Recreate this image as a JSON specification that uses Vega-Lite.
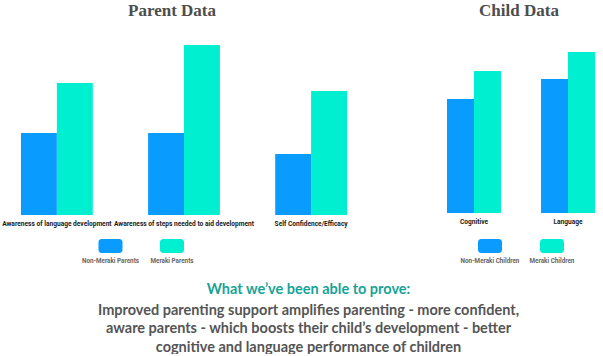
{
  "$schema": "https://vega.github.io/schema/vega-lite/v6.json",
  "background": "white",
  "padding": {"left": 0, "right": 0, "top": 2, "bottom": 0},
  "datasets": {
    "parent": [
      {"measure": "Awareness of language development", "group": "Non-Meraki Parents", "value": 44.3},
      {"measure": "Awareness of language development", "group": "Meraki Parents", "value": 71.4},
      {"measure": "Awareness of steps needed to aid development", "group": "Non-Meraki Parents", "value": 44.3},
      {"measure": "Awareness of steps needed to aid development", "group": "Meraki Parents", "value": 91.9},
      {"measure": "Self Confidence/Efficacy", "group": "Non-Meraki Parents", "value": 33},
      {"measure": "Self Confidence/Efficacy", "group": "Meraki Parents", "value": 67}
    ],
    "child": [
      {"measure": "Cognitive", "group": "Non-Meraki Children", "value": 62.3},
      {"measure": "Cognitive", "group": "Meraki Children", "value": 77.6},
      {"measure": "Language", "group": "Non-Meraki Children", "value": 73.2},
      {"measure": "Language", "group": "Meraki Children", "value": 88}
    ],
    "parentLegend": [
      {"group": "Non-Meraki Parents"},
      {"group": "Meraki Parents"}
    ],
    "childLegend": [
      {"group": "Non-Meraki Children"},
      {"group": "Meraki Children"}
    ],
    "summary": [
      {"line": 1, "kind": "head", "text": "What we’ve been able to prove:"},
      {"line": 2, "kind": "body", "text": "Improved parenting support amplifies parenting - more confident,"},
      {"line": 3, "kind": "body", "text": "aware parents - which boosts their child’s development - better"},
      {"line": 4, "kind": "body", "text": "cognitive and language performance of children"}
    ]
  },
  "vconcat": [
    {
      "hconcat": [
        {
          "vconcat": [
            {
              "title": {"text": "Parent Data", "font": "Liberation Serif", "fontSize": 17, "fontWeight": "bold", "color": "#4d4d4d", "offset": 10, "dx": -12},
              "width": 368,
              "height": 185,
              "data": {"name": "parent"},
              "mark": {"type": "bar"},
              "encoding": {
                "x": {
                  "field": "measure", "type": "nominal", "sort": null,
                  "scale": {"paddingInner": 0.435, "paddingOuter": 0.165},
                  "axis": {"title": null, "labelAngle": 0, "domain": false, "ticks": false, "labelPadding": 5, "labelFont": "Roboto", "labelFontSize": 6.6, "labelFontWeight": "bold", "labelColor": "#1a1a1a", "labelOverlap": false, "labelLimit": 0}
                },
                "xOffset": {"field": "group", "type": "nominal", "sort": ["Non-Meraki Parents", "Meraki Parents"], "scale": {"paddingInner": 0, "paddingOuter": 0}},
                "y": {"field": "value", "type": "quantitative", "scale": {"domain": [0, 100]}, "axis": null},
                "color": {"field": "group", "type": "nominal", "scale": {"domain": ["Non-Meraki Parents", "Meraki Parents"], "range": ["#0a9bff", "#00efd1"]}, "legend": null}
              }
            },
            {
              "width": 172,
              "height": 14,
              "data": {"name": "parentLegend"},
              "layer": [
                {
                  "mark": {"type": "bar", "width": 24, "cornerRadius": 3},
                  "encoding": {
                    "x": {"field": "group", "type": "nominal", "sort": null, "scale": {"type": "point", "padding": 0.898, "align": 1}, "axis": null},
                    "color": {"field": "group", "type": "nominal", "scale": {"domain": ["Non-Meraki Parents", "Meraki Parents"], "range": ["#0a9bff", "#00efd1"]}, "legend": null}
                  }
                },
                {
                  "mark": {"type": "text", "dy": 15, "font": "Roboto", "fontSize": 6.3, "fontWeight": "bold", "color": "#666666"},
                  "encoding": {
                    "x": {"field": "group", "type": "nominal", "sort": null},
                    "text": {"field": "group"}
                  }
                }
              ]
            }
          ],
          "spacing": 12,
          "resolve": {"scale": {"x": "independent", "xOffset": "independent", "color": "independent"}}
        },
        {
          "vconcat": [
            {
              "title": {"text": "Child Data", "font": "Liberation Serif", "fontSize": 17, "fontWeight": "bold", "color": "#4d4d4d", "offset": 10, "dx": -2},
              "width": 164,
              "height": 183,
              "data": {"name": "child"},
              "mark": {"type": "bar"},
              "encoding": {
                "x": {
                  "field": "measure", "type": "nominal", "sort": null,
                  "scale": {"paddingInner": 0.426, "paddingOuter": 0.085},
                  "axis": {"title": null, "labelAngle": 0, "domain": false, "ticks": false, "labelPadding": 5, "labelFont": "Roboto", "labelFontSize": 6.6, "labelFontWeight": "bold", "labelColor": "#1a1a1a", "labelOverlap": false, "labelLimit": 0}
                },
                "xOffset": {"field": "group", "type": "nominal", "sort": ["Non-Meraki Children", "Meraki Children"], "scale": {"paddingInner": 0, "paddingOuter": 0}},
                "y": {"field": "value", "type": "quantitative", "scale": {"domain": [0, 100]}, "axis": null},
                "color": {"field": "group", "type": "nominal", "scale": {"domain": ["Non-Meraki Children", "Meraki Children"], "range": ["#0a9bff", "#00efd1"]}, "legend": null}
              }
            },
            {
              "width": 164,
              "height": 14,
              "data": {"name": "childLegend"},
              "layer": [
                {
                  "mark": {"type": "bar", "width": 24, "cornerRadius": 3},
                  "encoding": {
                    "x": {"field": "group", "type": "nominal", "sort": null, "scale": {"type": "point", "padding": 0.8226}, "axis": null},
                    "color": {"field": "group", "type": "nominal", "scale": {"domain": ["Non-Meraki Children", "Meraki Children"], "range": ["#0a9bff", "#00efd1"]}, "legend": null}
                  }
                },
                {
                  "mark": {"type": "text", "dy": 15, "font": "Roboto", "fontSize": 6.3, "fontWeight": "bold", "color": "#666666"},
                  "encoding": {
                    "x": {"field": "group", "type": "nominal", "sort": null},
                    "text": {"field": "group"}
                  }
                }
              ]
            }
          ],
          "spacing": 14,
          "resolve": {"scale": {"x": "independent", "xOffset": "independent", "color": "independent"}}
        }
      ],
      "spacing": 71,
      "resolve": {"scale": {"x": "independent", "xOffset": "independent", "color": "independent", "y": "independent"}}
    },
    {
      "width": 603,
      "height": 55.5,
      "data": {"name": "summary"},
      "encoding": {
        "y": {"field": "line", "type": "ordinal", "scale": {"type": "point", "padding": 0}, "axis": null}
      },
      "layer": [
        {
          "transform": [{"filter": "datum.kind === 'head'"}],
          "mark": {"type": "text", "baseline": "alphabetic", "align": "center", "dx": 7, "dy": -2.5, "font": "Lato", "fontSize": 14.5, "fontWeight": "bold", "color": "#17a398"},
          "encoding": {"text": {"field": "text"}}
        },
        {
          "transform": [{"filter": "datum.kind === 'body'"}],
          "mark": {"type": "text", "baseline": "alphabetic", "align": "center", "dx": 7, "font": "Lato", "fontSize": 14.5, "fontWeight": "bold", "color": "#555555"},
          "encoding": {"text": {"field": "text"}}
        }
      ]
    }
  ],
  "spacing": 16,
  "resolve": {"scale": {"x": "independent", "y": "independent", "xOffset": "independent", "color": "independent"}},
  "config": {
    "view": {"stroke": null}
  }
}
